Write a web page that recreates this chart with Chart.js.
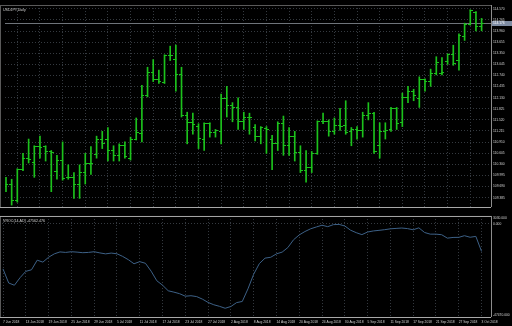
<!DOCTYPE html>
<html>
<head>
<meta charset="utf-8">
<script src="https://cdn.jsdelivr.net/npm/chart.js@4.4.1/dist/chart.umd.min.js"></script>
<style>
  html, body { margin: 0; padding: 0; background: #000; overflow: hidden; }
  #wrap { position: relative; width: 512px; height: 326px; }
  canvas { position: absolute; left: 0; }
  #priceChart { top: 0; }
  #vrocChart { top: 212px; }
</style>
</head>
<body>
<div id="wrap">
  <canvas id="priceChart" width="512" height="212"></canvas>
  <canvas id="vrocChart" width="512" height="114"></canvas>
</div>
<script>
// USDJPY daily, 7 Jun 2018 .. 3 Oct 2018 (one bar per trading day)
const dateLabels = ['7 Jun 2018', '13 Jun 2018', '19 Jun 2018', '25 Jun 2018', '29 Jun 2018', '5 Jul 2018',
  '11 Jul 2018', '17 Jul 2018', '23 Jul 2018', '27 Jul 2018', '2 Aug 2018', '8 Aug 2018', '14 Aug 2018',
  '20 Aug 2018', '24 Aug 2018', '30 Aug 2018', '5 Sep 2018', '11 Sep 2018', '17 Sep 2018', '21 Sep 2018',
  '27 Sep 2018', '3 Oct 2018'];

const opens = [109.680, 109.733, 109.312, 110.153, 110.469, 110.337, 110.784, 110.784, 110.653, 110.101,
  110.416, 109.943, 109.943, 109.759, 110.074, 110.311, 110.574, 110.994, 110.994, 110.679,
  110.547, 110.810, 110.469, 110.994, 111.152, 112.178, 112.835, 112.624, 112.546, 113.282,
  113.176, 112.756, 111.652, 111.441, 111.336, 110.994, 111.415, 111.178, 111.205, 112.099,
  111.915, 111.862, 111.468, 111.599, 111.310, 111.073, 111.283, 110.994, 110.863, 111.415,
  110.810, 111.073, 110.626, 110.127, 110.206, 110.600, 111.468, 111.468, 111.205, 111.362,
  111.362, 111.205, 111.257, 111.231, 111.652, 111.704, 110.810, 111.205, 111.257, 111.836,
  111.441, 112.125, 112.309, 112.099, 112.624, 112.572, 112.782, 112.782, 113.124, 113.308,
  113.150, 113.807, 114.149, 114.465, 114.097];
const highs = [109.943, 109.890, 110.179, 110.600, 110.994, 110.810, 111.073, 110.810, 110.679, 110.547,
  110.915, 110.285, 110.074, 110.285, 110.600, 110.784, 111.073, 111.205, 111.310, 110.810,
  110.863, 110.915, 111.047, 111.573, 112.467, 112.966, 113.176, 112.887, 113.308, 113.545,
  113.571, 112.966, 111.731, 111.704, 111.415, 111.441, 111.441, 111.257, 112.230, 112.440,
  111.994, 112.125, 111.731, 111.704, 111.389, 111.336, 111.336, 111.099, 111.468, 111.625,
  111.310, 111.205, 110.810, 110.679, 110.653, 111.494, 111.704, 111.520, 111.573, 111.836,
  112.046, 111.310, 111.336, 111.731, 111.994, 111.731, 111.441, 111.441, 111.862, 111.862,
  112.256, 112.440, 112.362, 112.703, 112.651, 112.914, 113.255, 113.229, 113.334, 113.571,
  113.886, 114.176, 114.544, 114.491, 114.307];
const lows = [109.549, 109.181, 109.260, 110.127, 110.337, 109.943, 110.469, 110.390, 109.549, 109.890,
  109.864, 109.890, 109.365, 109.365, 109.759, 110.022, 110.469, 110.732, 110.390, 110.390,
  110.390, 110.469, 110.416, 110.968, 110.915, 112.151, 112.572, 112.519, 112.519, 113.150,
  112.309, 111.599, 110.863, 111.126, 110.732, 110.679, 111.047, 111.047, 110.863, 111.599,
  111.468, 111.257, 111.257, 111.126, 110.942, 110.863, 110.600, 110.153, 110.679, 110.547,
  110.547, 110.390, 110.074, 109.811, 110.074, 110.574, 111.415, 111.073, 111.126, 111.231,
  111.126, 110.810, 110.994, 111.047, 111.520, 110.600, 110.469, 110.994, 111.205, 111.257,
  111.336, 111.994, 112.046, 111.862, 112.309, 112.440, 112.756, 112.756, 113.045, 113.019,
  112.887, 113.702, 114.123, 113.965, 113.965];
const closes = [109.733, 109.312, 110.153, 110.469, 110.442, 110.784, 110.758, 110.653, 110.626, 110.416,
  109.917, 109.943, 109.759, 110.074, 110.311, 110.311, 110.994, 110.863, 110.679, 110.547,
  110.810, 110.521, 110.994, 111.178, 112.178, 112.835, 112.624, 112.572, 113.282, 113.282,
  112.756, 111.652, 111.441, 111.389, 111.021, 111.415, 111.178, 111.231, 112.099, 111.915,
  111.862, 111.468, 111.599, 111.573, 111.073, 111.310, 111.257, 110.863, 111.415, 110.810,
  111.073, 110.626, 110.127, 110.206, 110.600, 111.468, 111.468, 111.205, 111.362, 111.336,
  111.178, 111.257, 111.231, 111.652, 111.704, 110.653, 111.205, 111.231, 111.836, 111.415,
  112.125, 112.309, 112.178, 112.624, 112.572, 112.782, 113.098, 112.835, 113.308, 113.071,
  113.834, 114.149, 114.517, 114.097, 114.176];

// indicator sub-window
const vroc = [-23483, -30805, -31967, -28028, -24745, -23937, -18938, -19948, -17423, -15655,
  -14645, -14898, -14544, -14746, -15049, -14898, -14544, -15150, -15655, -15251,
  -15605, -16968, -18685, -20806, -19695, -20554, -24644, -29644, -31916, -34845,
  -35552, -36360, -37673, -37421, -37875, -39188, -40905, -42117, -42925, -43935,
  -43026, -41006, -40400, -33835, -26260, -20705, -17877, -17423, -15655, -14746,
  -12373, -8333, -5808, -4040, -2626, -1667, -758, -1515, -455, -354,
  -1162, -3333, -4646, -5656, -4293, -3737, -3434, -3081, -2626, -2424,
  -2222, -2525, -3131, -2121, -4545, -5404, -5404, -5707, -7474, -7121,
  -7070, -6212, -7020, -6565, -14393];

const priceTicks = [114.570, 114.265, 113.960, 113.655, 113.350, 113.045, 112.740, 112.435, 112.130,
  111.825, 111.520, 111.215, 110.910, 110.605, 110.300, 109.995, 109.690, 109.385];
const vrocTicks = [3030, 0, -47470];

const GREEN = '#1cc21c';
const BLUE = '#3d6187';
const GRID = '#353a40';
const TEXT = '#d2d2d2';
const FONT = 'Liberation Sans';
const X_MIN = -0.175, X_MAX = 85.66;

const idx = closes.map((_, i) => i);
const dateTicks = dateLabels.map((_, k) => k * 4);

function tickImage(side) {
  const c = document.createElement('canvas');
  c.width = 5;
  c.height = 1;
  const g = c.getContext('2d');
  g.fillStyle = GREEN;
  g.fillRect(side === 'left' ? 0 : 2, 0, 3, 1);
  return c;
}

function panelFrame(title, topLine) {
  return {
    id: 'panelFrame',
    afterDraw(chart) {
      const { ctx, chartArea: a } = chart;
      ctx.save();
      ctx.lineWidth = 1;
      ctx.strokeStyle = '#8c8c8c';
      ctx.beginPath();
      ctx.moveTo(a.right + 0.5, a.top);
      ctx.lineTo(a.right + 0.5, a.bottom);
      ctx.stroke();
      ctx.strokeStyle = '#5a5a5a';
      ctx.beginPath();
      ctx.moveTo(0.5, a.top);
      ctx.lineTo(0.5, a.bottom);
      ctx.stroke();
      ctx.strokeStyle = topLine;
      ctx.beginPath();
      ctx.moveTo(0, a.top + 0.5);
      ctx.lineTo(a.right, a.top + 0.5);
      ctx.stroke();
      ctx.strokeStyle = '#a8a8a8';
      ctx.beginPath();
      ctx.moveTo(0, a.bottom + 0.5);
      ctx.lineTo(a.right, a.bottom + 0.5);
      ctx.stroke();
      ctx.fillStyle = TEXT;
      ctx.font = '3.6px "' + FONT + '"';
      ctx.textBaseline = 'middle';
      ctx.fillText(title, 3, a.top + 5);
      ctx.restore();
    }
  };
}

const priceLine = {
  id: 'priceLine',
  beforeDatasetsDraw(chart) {
    const { ctx, chartArea: a, scales: { y } } = chart;
    const py = Math.round(y.getPixelForValue(closes[closes.length - 1])) + 0.5;
    ctx.save();
    ctx.strokeStyle = '#6f747a';
    ctx.lineWidth = 1;
    ctx.beginPath();
    ctx.moveTo(a.left, py);
    ctx.lineTo(a.right, py);
    ctx.stroke();
    ctx.restore();
  },
  afterDraw(chart) {
    const { ctx, chartArea: a, scales: { y } } = chart;
    const last = closes[closes.length - 1];
    const py = Math.round(y.getPixelForValue(last));
    ctx.save();
    ctx.fillStyle = '#7e8ca3';
    ctx.fillRect(a.right + 1, py - 2, 20, 5);
    ctx.fillStyle = '#ffffff';
    ctx.font = '3.3px "' + FONT + '"';
    ctx.textBaseline = 'middle';
    ctx.fillText(last.toFixed(3), a.right + 2, py + 0.5);
    ctx.restore();
  }
};

Chart.defaults.animation = false;
Chart.defaults.events = [];
Chart.defaults.plugins.legend.display = false;
Chart.defaults.plugins.tooltip.enabled = false;

new Chart(document.getElementById('priceChart'), {
  type: 'bar',
  data: {
    datasets: [
      {
        data: idx.map(i => ({ x: i, y: [lows[i], highs[i]] })),
        backgroundColor: GREEN,
        borderWidth: 0,
        barThickness: 1
      },
      {
        type: 'scatter',
        data: idx.map(i => ({ x: i, y: opens[i] })),
        pointStyle: tickImage('left'),
        pointRadius: 2
      },
      {
        type: 'scatter',
        data: idx.map(i => ({ x: i, y: closes[i] })),
        pointStyle: tickImage('right'),
        pointRadius: 2
      }
    ]
  },
  options: {
    responsive: false,
    devicePixelRatio: 1,
    layout: { padding: { top: 0, left: 0, right: 0, bottom: 1 } },
    scales: {
      x: {
        type: 'linear', min: X_MIN, max: X_MAX, offset: false,
        afterBuildTicks: s => { s.ticks = dateTicks.map(v => ({ value: v })); },
        ticks: { display: false },
        grid: { color: GRID, drawTicks: false },
        border: { display: false, dash: [1, 2] },
        afterFit: s => { s.height = 0; }
      },
      y: {
        position: 'right', min: 109.128, max: 114.675,
        afterBuildTicks: s => { s.ticks = priceTicks.map(v => ({ value: v })); },
        ticks: { color: TEXT, font: { family: FONT, size: 3.3 }, padding: 2, callback: v => v.toFixed(3) },
        grid: { color: GRID, drawTicks: false },
        border: { display: false, dash: [1, 2] },
        afterFit: s => { s.width = 21; }
      }
    }
  },
  plugins: [priceLine, panelFrame('USDJPY,Daily', '#5a5a5a')]
});

new Chart(document.getElementById('vrocChart'), {
  type: 'line',
  data: {
    datasets: [{
      data: idx.map(i => ({ x: i, y: vroc[i] })),
      borderColor: BLUE,
      borderWidth: 1,
      pointRadius: 0,
      tension: 0
    }]
  },
  options: {
    responsive: false,
    devicePixelRatio: 1,
    layout: { padding: { top: 1, left: 0, right: 0, bottom: 0 } },
    scales: {
      x: {
        type: 'linear', min: X_MIN, max: X_MAX, offset: false,
        afterBuildTicks: s => { s.ticks = dateTicks.map(v => ({ value: v })); },
        ticks: {
          color: TEXT, font: { family: FONT, size: 3.3 }, align: 'start', maxRotation: 0,
          autoSkip: false, padding: 3, callback: v => dateLabels[Math.round(v / 4)]
        },
        grid: { color: GRID, drawTicks: false },
        border: { display: false, dash: [1, 2] },
        afterFit: s => { s.height = 9; }
      },
      y: {
        position: 'right', min: -48480, max: 4040,
        afterBuildTicks: s => { s.ticks = vrocTicks.map(v => ({ value: v })); },
        ticks: { color: TEXT, font: { family: FONT, size: 3.3 }, padding: 2, callback: v => v.toFixed(3) },
        grid: { color: c => (c.tick && c.tick.value === 0 ? GRID : 'rgba(0,0,0,0)'), drawTicks: false },
        border: { display: false, dash: [1, 2] },
        afterFit: s => { s.width = 21; }
      }
    }
  },
  plugins: [panelFrame('VROC(14,AD) -47562.476', '#a8a8a8')]
});
</script>
</body>
</html>
